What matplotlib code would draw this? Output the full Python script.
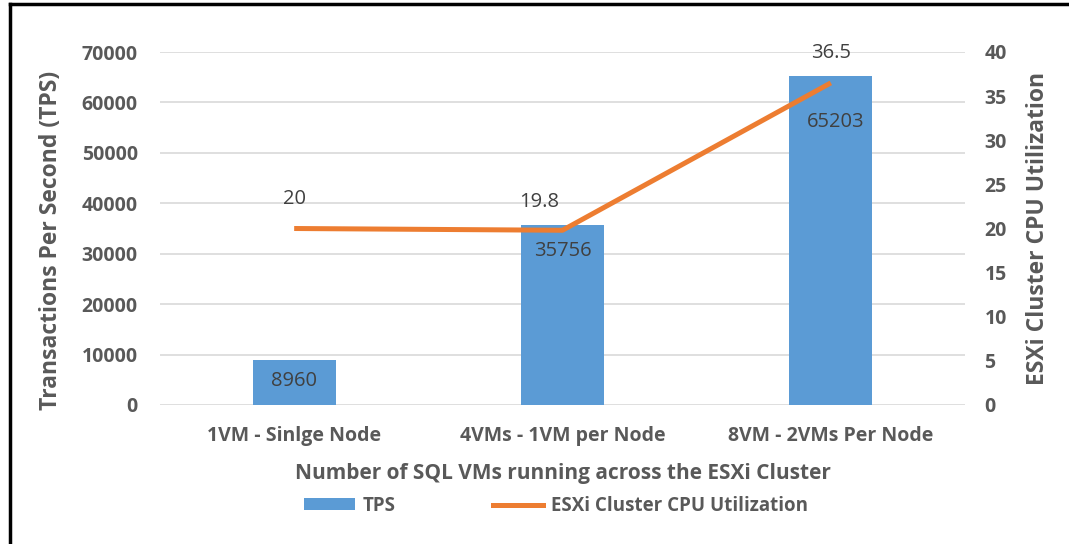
import matplotlib
matplotlib.use("Agg")
import matplotlib.pyplot as plt
from matplotlib.patches import Patch
from matplotlib.lines import Line2D
import numpy as np

categories = ["1VM - Sinlge Node", "4VMs - 1VM per Node", "8VM - 2VMs Per Node"]
tps = [8960, 35756, 65203]
cpu = [20, 19.8, 36.5]
left_ticks = [0, 10000, 20000, 30000, 40000, 50000, 60000, 70000]
right_ticks = [0, 5, 10, 15, 20, 25, 30, 35, 40]

BLUE = "#5B9BD5"
ORANGE = "#ED7D31"
TXT = "#595959"
LBL = "#404040"
GRID = "#D9D9D9"

plt.rcParams["font.family"] = ["Open Sans", "DejaVu Sans"]

fig = plt.figure(figsize=(10.69, 5.44), dpi=100)
ax = fig.add_axes([160/1069, 1-405/544, (965-160)/1069, (405-52)/544])
ax2 = ax.twinx()

x = np.arange(len(categories))
bars = ax.bar(x, tps, width=0.31, color=BLUE, zorder=2)
ax.set_xlim(-0.5, 2.5)
ax.set_ylim(0, 70000)
ax.set_yticks(left_ticks)
ax.set_yticklabels([str(v) for v in left_ticks])
ax.grid(axis="y", color=GRID, lw=1.2, zorder=0)
ax.set_axisbelow(True)
ax.set_xticks(x)
ax.set_xticklabels(categories)

ax2.plot(x, cpu, color=ORANGE, lw=3.6, solid_capstyle="butt", zorder=3)
ax2.set_ylim(0, 40)
ax2.set_yticks(right_ticks)

for a in (ax, ax2):
    for s in a.spines.values():
        s.set_visible(False)
    a.tick_params(length=0, colors=TXT, labelsize=14)
    for t in a.get_yticklabels() + a.get_xticklabels():
        t.set_fontweight("bold")
        t.set_color(TXT)
ax.tick_params(axis="y", pad=16)
ax2.tick_params(axis="y", pad=14)
ax.tick_params(axis="x", pad=15)

ax.set_ylabel("Transactions Per Second (TPS)", fontsize=16.5, fontweight="bold", color=TXT)
ax.yaxis.set_label_coords(-0.121, 0.467)
ax2.set_ylabel("ESXi Cluster CPU Utilization", fontsize=16.5, fontweight="bold", color=TXT, labelpad=14)
ax.set_xlabel("Number of SQL VMs running across the ESXi Cluster", fontsize=15, fontweight="bold", color=TXT, labelpad=12)

px = 0.72
bar_offsets = [(0, -21), (0, -26), (5, -46)]
for xi, v, (dx, dy) in zip(x, tps, bar_offsets):
    ax.annotate(str(v), (xi, v), xytext=(dx*px, dy*px), textcoords="offset points",
                ha="center", va="center", fontsize=14.5, color=LBL, zorder=5)
line_offsets = [(0, 29), (-23, 28), (0, 30)]
for xi, v, (dx, dy) in zip(x, cpu, line_offsets):
    ax2.annotate(f"{v:g}", (xi, v), xytext=(dx*px, dy*px), textcoords="offset points",
                 ha="center", va="center", fontsize=14.5, color=LBL, zorder=5)

handles = [Patch(facecolor=BLUE, edgecolor="none"), Line2D([0], [0], color=ORANGE, lw=3.6)]
leg = fig.legend(handles, ["TPS", "ESXi Cluster CPU Utilization"], loc="center",
                 bbox_to_anchor=(556/1069, 1-506/544), ncol=2, frameon=False,
                 fontsize=13.5, handlelength=2.7, handleheight=0.6, handletextpad=0.4,
                 columnspacing=5.2)
for t in leg.get_texts():
    t.set_color(TXT)
    t.set_fontweight("bold")

# page border
fig.add_artist(Line2D([10/1069, 10/1069], [0, 1-4/544], color="black", lw=2.5, transform=fig.transFigure))
fig.add_artist(Line2D([10/1069, 1], [1-4/544, 1-4/544], color="black", lw=2.5, transform=fig.transFigure))

fig.savefig("out.png", dpi=100)
